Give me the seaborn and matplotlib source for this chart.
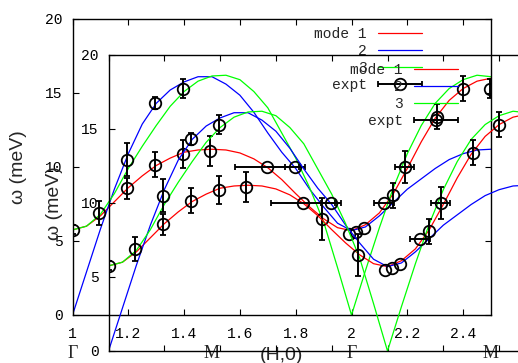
import matplotlib
matplotlib.use('Agg')
import matplotlib.pyplot as plt
import pandas as pd
import seaborn as sns
from matplotlib.container import ErrorbarContainer
from matplotlib.legend_handler import HandlerErrorbar
from matplotlib.lines import Line2D

nan = float('nan')

# Dispersion curves along (H,0)
H = [1.00, 1.05, 1.10, 1.15, 1.20, 1.25, 1.30, 1.35, 1.40, 1.45, 1.50,
     1.55, 1.60, 1.65, 1.70, 1.75, 1.80, 1.85, 1.90, 1.95, 2.00,
     2.05, 2.10, 2.15, 2.20, 2.25, 2.30, 2.35, 2.40, 2.45, 2.50]
mode1 = [5.75, 6.0, 6.7, 7.65, 8.6, 9.4, 10.1, 10.6, 11.0, 11.15, 11.2,
         11.15, 10.95, 10.55, 9.95, 9.15, 8.2, 7.3, 6.5, 5.9, 5.7,
         6.1, 6.9, 8.2, 9.9, 11.7, 13.3, 14.5, 15.3, 15.8, 16.0]
mode2 = [0.0, 2.9, 5.8, 8.5, 10.9, 12.9, 14.3, 15.2, 15.75, 16.1, 16.1,
         15.6, 14.85, 13.7, 12.3, 11.0, 9.9, 8.5, 7.3, 6.2, 5.7,
         5.95, 6.7, 7.6, 8.5, 9.2, 9.9, 10.5, 10.9, 11.15, 11.2]
mode3 = [5.75, 6.0, 6.8, 8.2, 9.9, 11.4, 12.8, 14.1, 15.1, 15.8, 16.15,
         16.2, 15.9, 15.1, 14.0, 12.3, 10.6, 8.6, 6.3, 3.2, 0.0,
         3.0, 5.9, 8.6, 10.9, 12.8, 14.3, 15.3, 15.9, 16.2, 16.1]

# Measured points
expt_h = [1.00, 1.095, 1.195, 1.195, 1.295, 1.295, 1.397, 1.397, 1.493, 1.696, 1.797,
          1.893, 1.99, 2.017, 2.045, 2.117, 2.15, 2.19, 2.305, 2.40, 2.497]
expt_e = [5.75, 6.9, 8.55, 10.5, 10.15, 14.3, 10.9, 15.3, 11.1, 10.0, 10.0,
          6.5, 5.5, 5.62, 5.88, 7.55, 8.1, 10.0, 13.4, 15.3, 15.3]
expt_herr = [nan, nan, nan, nan, nan, nan, nan, nan, nan, 0.115, 0.035,
             nan, nan, nan, nan, 0.035, nan, 0.033, nan, nan, nan]
expt_eerr = [0.3, 0.8, 0.7, 1.1, 0.85, 0.4, 0.95, 0.65, 1.0, nan, nan,
             1.4, nan, nan, nan, nan, 0.85, 1.05, 0.85, 0.85, 0.65]

xticks = [1, 1.2, 1.4, 1.6, 1.8, 2, 2.2, 2.4]
xtick_labels = ['1', '1.2', '1.4', '1.6', '1.8', '2', '2.2', '2.4']
yticks = [0, 5, 10, 15, 20]
sym_pos = [1.0, 1.5, 2.0, 2.5]
sym_labels = ['Γ', 'M', 'Γ', 'M']

mode_names = ['mode 1', '2', '3']
mode_colors = ['#ff0000', '#0000ff', '#00ff00']

sns.set_style('ticks')
plt.rcParams['font.family'] = ['Liberation Mono', 'DejaVu Sans']

curves = pd.DataFrame({
    'H': H * 3,
    'E': mode1 + mode2 + mode3,
    'mode': [m for m in mode_names for _ in H],
})


def draw(ax):
    ax.set_facecolor('none')
    sns.lineplot(data=curves, x='H', y='E', hue='mode', palette=dict(zip(mode_names, mode_colors)),
                 estimator=None, linewidth=0.9, legend=False, ax=ax)
    eb = ax.errorbar(expt_h, expt_e, xerr=expt_herr, yerr=expt_eerr, fmt='o', mfc='none', mec='black',
                     mew=1.3, ms=8.3, ecolor='black', elinewidth=1.4, capsize=2.3, capthick=1.4,
                     zorder=3)
    ax.set_xlim(1, 2.5)
    ax.set_ylim(0, 20)
    ax.set_xticks(xticks, xtick_labels)
    ax.set_yticks(yticks)
    ax.set_xlabel('')
    ax.set_ylabel('')
    ax.tick_params(direction='in', top=True, right=True, length=4, width=0.8,
                   labelsize=10.5, colors='black')
    ax.tick_params(axis='y', pad=7)
    ax.tick_params(axis='x', pad=9)
    for s in ax.spines.values():
        s.set_color('black')
        s.set_linewidth(1.0)
    for p, t in zip(sym_pos, sym_labels):
        ax.text(p, -0.13, t, transform=ax.get_xaxis_transform(), ha='center', va='center',
                family='Liberation Serif', fontsize=13)
    ax.text(0.5, -0.137, '(H,0)', transform=ax.transAxes, ha='center', va='center',
            family='Liberation Sans', fontsize=14)
    ax.text(-0.13, 0.5, 'ω (meV)', transform=ax.transAxes, ha='center', va='center',
            rotation=90, family='Liberation Sans', fontsize=14)
    handles = [Line2D([], [], color=c, lw=0.9) for c in mode_colors] + [eb]
    ax.legend(handles, mode_names + ['expt'], loc='upper right', bbox_to_anchor=(0.835, 0.972),
              frameon=False, markerfirst=False, handlelength=3.0, handletextpad=0.8,
              labelspacing=0.2, borderpad=0, borderaxespad=0, fontsize=10.5,
              handler_map={ErrorbarContainer: HandlerErrorbar(xerr_size=1.5, yerr_size=0)})


fig = plt.figure(figsize=(5.18, 3.63), dpi=100)
W, Hp = 518, 363
back = fig.add_axes([72.5 / W, (Hp - 315) / Hp, 418.5 / W, 296 / Hp])
front = fig.add_axes([108.5 / W, (Hp - 351) / Hp, 418.5 / W, 296 / Hp])
draw(back)
draw(front)
fig.savefig('out.png', dpi=100)
